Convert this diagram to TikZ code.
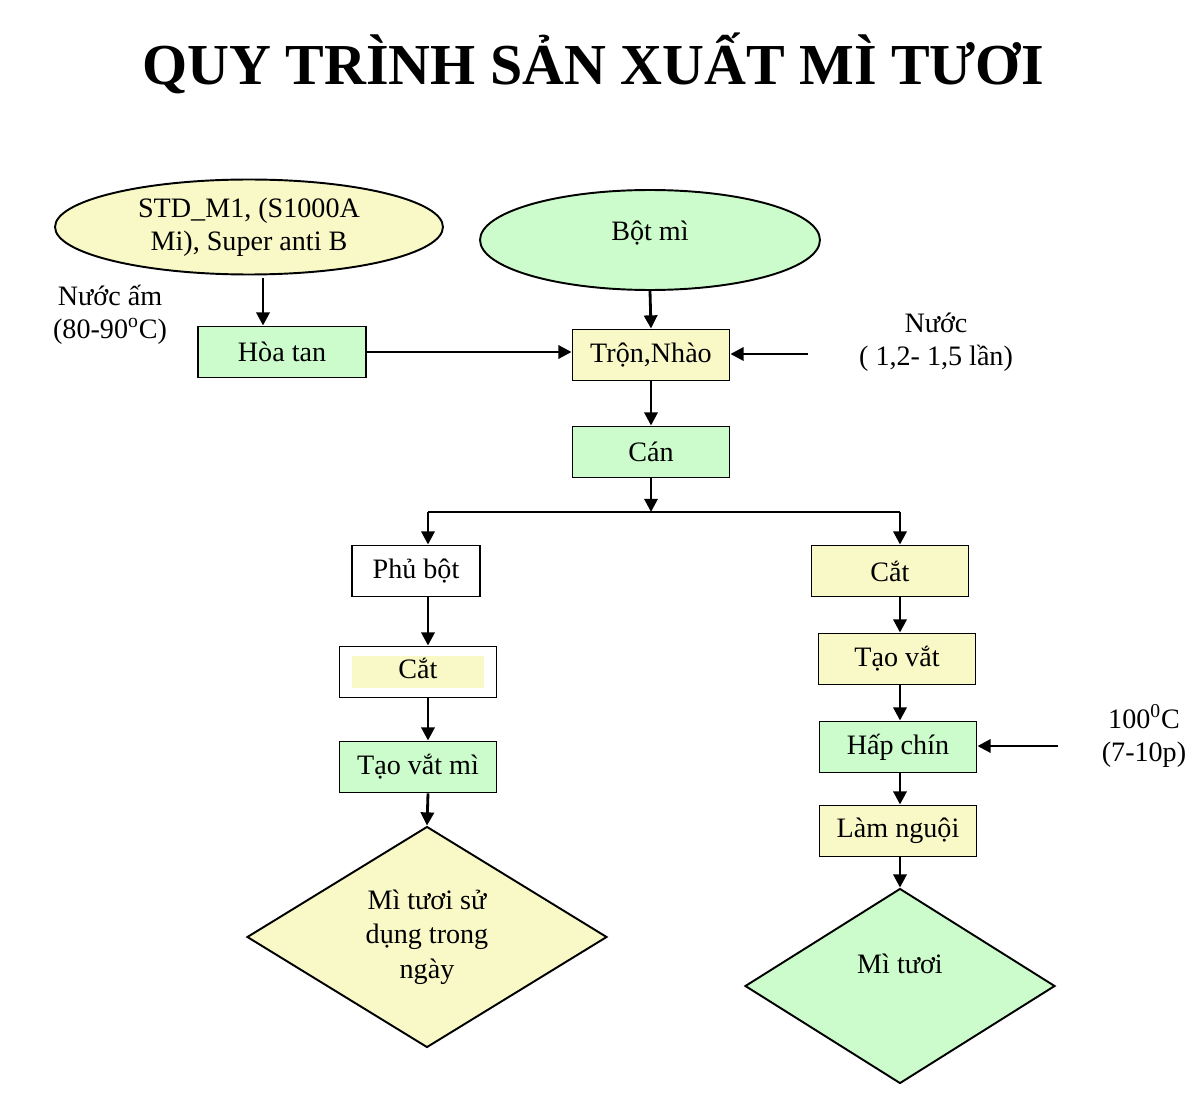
\documentclass[tikz,border=0pt]{standalone}
\usepackage{fontspec}
\setmainfont{Liberation Serif}
\usetikzlibrary{shapes.geometric,arrows.meta,calc}
\definecolor{greenfill}{RGB}{204,252,204}
\definecolor{yellowfill}{RGB}{248,249,198}

\begin{document}
\begin{tikzpicture}[
    x=0.02cm, y=-0.02cm,
    box/.style={
        rectangle,
        draw=black,
        line width=1.1pt,
        minimum width=3.14cm,
        minimum height=1.02cm,
        inner sep=0pt,
        font=\fontsize{16}{19}\selectfont
    },
    greenbox/.style={box, fill=greenfill},
    yellowbox/.style={box, fill=yellowfill},
    plainbox/.style={box, fill=white},
    source/.style={ellipse, draw=black, line width=1.1pt, inner sep=0pt,
        align=center, font=\fontsize{16}{19}\selectfont},
    product/.style={diamond, draw=black, line width=1.1pt, inner sep=0pt,
        aspect=1.6, align=center, font=\fontsize{16}{19.5}\selectfont},
    note/.style={align=center, font=\fontsize{16}{19}\selectfont},
    flow/.style={-{Triangle[length=7.5pt,width=7.5pt]}, line width=1.6pt},
    link/.style={line width=1.6pt}
]

% Canvas
\fill[white] (0,0) rectangle (1200,1108);
\useasboundingbox (0,0) rectangle (1200,1108);

% Title
\node[font=\fontsize{33}{39}\selectfont\bfseries] (title) at (593,63) {QUY TRÌNH SẢN XUẤT MÌ TƯƠI};

% Raw materials
\node[source, fill=yellowfill, minimum width=7.76cm, minimum height=1.9cm] (chatphu) at (249,227)
    {STD\_M1, (S1000A\\Mi), Super anti B};
\node[source, fill=greenfill, minimum width=6.8cm, minimum height=2cm] (botmi) at (650,240) {Bột mì\\[-0.5em]\mbox{}};

% Side inputs
\node[note] (nuocam) at (110,315) {Nước ấm\\(80-90\textsuperscript{o}C)};
\node[note] (nuoc) at (936,342) {Nước\\( 1,2- 1,5 lần)};
\node[note] (hoi) at (1144,736) {100\textsuperscript{0}C\\(7-10p)};

% Main line
\node[greenbox, minimum width=3.36cm] (hoatan) at (282,352) {Hòa tan};
\node[yellowbox] (tronnhao) at (651,355) {Trộn,Nhào};
\node[greenbox] (can) at (651,452) {Cán};

% Left branch
\node[plainbox, minimum width=2.56cm] (phubot) at (416,571) {Phủ bột};
\node[plainbox] (cat1) at (418,672)
    {\setlength\fboxsep{0pt}\colorbox{yellowfill}{\makebox[2.64cm]{\rule[-0.2cm]{0pt}{0.64cm}Cắt}}};
\node[greenbox] (taovatmi) at (418,767) {Tạo vắt mì};
\node[product, fill=yellowfill, minimum width=7.2cm, minimum height=4.42cm] (dungngay) at (427,937)
    {Mì tươi sử\\dụng trong\\ngày};

% Right branch
\node[yellowbox] (cat2) at (890,571) {Cắt};
\node[yellowbox] (taovat) at (897,659) {Tạo vắt};
\node[greenbox] (hapchin) at (898,747) {Hấp chín};
\node[yellowbox] (lamnguoi) at (898,831) {Làm nguội};
\node[product, fill=greenfill, minimum width=6.2cm, minimum height=3.9cm] (mituoi) at (900,986)
    {Mì tươi\\[5.5pt]\mbox{}};

% Connector points
\coordinate (c1) at (263,278);
\coordinate (nuocin) at (808,354);
\coordinate (hoiin) at (1058,746);
\coordinate (split) at (651,512);
\coordinate (splitL) at (428,512);
\coordinate (splitR) at (900,512);

% Arrows - top part
\draw[flow] (c1) -- (c1 |- hoatan.north);
\draw[flow] (hoatan.east) -- (hoatan.east -| tronnhao.west);
\draw[flow] (botmi.south) -- (tronnhao.north);
\draw[flow] (nuocin) -- (nuocin -| tronnhao.east);
\draw[flow] (tronnhao) -- (can);
\draw[flow] (can) -- (split);
\draw[link] (splitL) -- (splitR);

% Arrows - left branch
\draw[flow] (splitL) -- (splitL |- phubot.north);
\draw[flow] (phubot.south -| splitL) -- (cat1.north -| splitL);
\draw[flow] (cat1.south -| splitL) -- (taovatmi.north -| splitL);
\draw[flow] (taovatmi.south -| splitL) -- (dungngay.north);

% Arrows - right branch
\draw[flow] (splitR) -- (splitR |- cat2.north);
\draw[flow] (cat2.south -| splitR) -- (taovat.north -| splitR);
\draw[flow] (taovat.south -| splitR) -- (hapchin.north -| splitR);
\draw[flow] (hoiin) -- (hoiin -| hapchin.east);
\draw[flow] (hapchin.south -| splitR) -- (lamnguoi.north -| splitR);
\draw[flow] (lamnguoi.south -| splitR) -- (mituoi.north);

\end{tikzpicture}
\end{document}
